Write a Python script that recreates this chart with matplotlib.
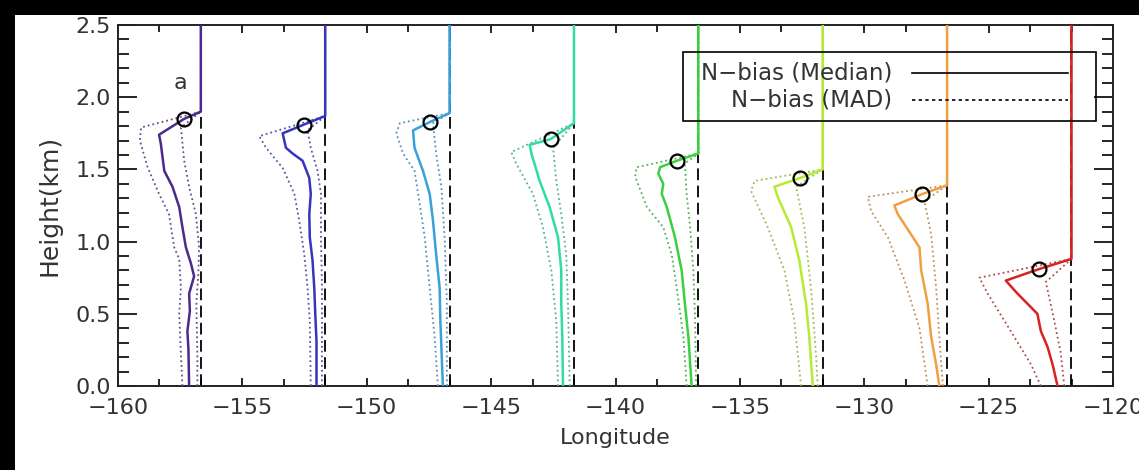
import numpy as np
import matplotlib
matplotlib.use("Agg")
import matplotlib.pyplot as plt
from matplotlib.patches import Rectangle
from matplotlib.lines import Line2D
from matplotlib.ticker import MultipleLocator, FormatStrFormatter
from matplotlib.colors import to_rgb

# Reference longitudes (dashed lines), one profile per longitude
lon0 = [-156.67, -151.67, -146.67, -141.67, -136.67, -131.67, -126.67, -121.67]
colors = ['#4b2a8c', '#3535c0', '#3aa0dc', '#30dca0', '#3ad040', '#b4ec34', '#f0a040', '#d82222']

# height (km) where the profile jumps back to zero, and the circled point
step_h = [1.90, 1.87, 1.89, 1.82, 1.61, 1.50, 1.39, 0.88]
circ_h = [1.85, 1.81, 1.83, 1.71, 1.56, 1.44, 1.33, 0.81]
circ_off = [-0.67, -0.86, -0.77, -0.93, -0.86, -0.92, -0.99, -1.30]

# Median N-bias profiles (offset in deg. from the reference longitude)
med_h = [
    [0.0, 0.26, 0.38, 0.52, 0.64, 0.76, 0.85, 0.96, 1.10, 1.24, 1.38, 1.49, 1.68, 1.74],
    [0.0, 0.31, 0.50, 0.68, 0.87, 1.03, 1.19, 1.33, 1.44, 1.56, 1.61, 1.65, 1.75],
    [0.0, 0.45, 0.68, 0.91, 1.15, 1.33, 1.49, 1.65, 1.77],
    [0.0, 0.34, 0.57, 0.80, 1.03, 1.24, 1.42, 1.61, 1.67],
    [0.0, 0.34, 0.57, 0.80, 1.03, 1.24, 1.33, 1.40, 1.47, 1.515],
    [0.0, 0.34, 0.57, 0.87, 1.10, 1.31, 1.38],
    [0.0, 0.15, 0.34, 0.57, 0.80, 0.96, 1.05, 1.19, 1.25],
    [0.0, 0.15, 0.27, 0.38, 0.50, 0.57, 0.64, 0.73],
]
med_off = [
    [-0.47, -0.50, -0.54, -0.44, -0.47, -0.27, -0.40, -0.60, -0.74, -0.87, -1.14, -1.47, -1.61, -1.68],
    [-0.35, -0.35, -0.40, -0.44, -0.51, -0.62, -0.64, -0.58, -0.64, -0.91, -1.31, -1.58, -1.71],
    [-0.27, -0.37, -0.40, -0.54, -0.67, -0.80, -1.07, -1.41, -1.47],
    [-0.44, -0.47, -0.51, -0.51, -0.64, -0.98, -1.38, -1.71, -1.78],
    [-0.27, -0.40, -0.54, -0.67, -0.94, -1.27, -1.47, -1.41, -1.61, -1.54],
    [-0.40, -0.54, -0.67, -0.94, -1.27, -1.81, -1.94],
    [-0.31, -0.44, -0.64, -0.78, -1.04, -1.11, -1.45, -1.98, -2.12],
    [-0.56, -0.76, -0.96, -1.23, -1.37, -1.77, -2.17, -2.64],
]

# MAD envelopes (left and right)
lo_h = [
    [0.0, 0.22, 0.50, 0.68, 0.88, 0.96, 1.19, 1.33, 1.52, 1.70, 1.79],
    [0.0, 0.45, 0.68, 0.91, 1.14, 1.33, 1.51, 1.65, 1.73],
    [0.0, 0.34, 0.68, 1.03, 1.26, 1.49, 1.61, 1.75, 1.82],
    [0.0, 0.45, 0.80, 1.10, 1.33, 1.54, 1.62],
    [0.0, 0.34, 0.68, 0.91, 1.10, 1.24, 1.45, 1.515],
    [0.0, 0.45, 0.80, 1.10, 1.35, 1.42],
    [0.0, 0.40, 0.73, 1.03, 1.21, 1.31],
    [0.0, 0.15, 0.38, 0.64, 0.75],
]
lo_off = [
    [-0.74, -0.80, -0.87, -0.80, -0.87, -1.07, -1.28, -1.68, -2.15, -2.45, -2.40],
    [-0.58, -0.62, -0.71, -0.84, -1.04, -1.24, -1.71, -2.38, -2.65],
    [-0.47, -0.60, -0.80, -1.00, -1.20, -1.41, -1.87, -2.14, -2.00],
    [-0.64, -0.71, -0.91, -1.25, -1.65, -2.32, -2.52],
    [-0.47, -0.60, -0.87, -1.07, -1.41, -2.07, -2.54, -2.48],
    [-0.87, -1.14, -1.54, -2.21, -2.88, -2.74],
    [-0.78, -1.11, -1.71, -2.38, -3.05, -3.19],
    [-1.23, -1.63, -2.44, -3.37, -3.70],
]
hi_h = [
    [0.0, 0.22, 0.57, 0.78, 0.96, 1.19, 1.38, 1.56, 1.79],
    [0.0, 0.68, 1.03, 1.33, 1.49, 1.65, 1.77],
    [0.0, 0.57, 1.03, 1.38, 1.61, 1.82],
    [0.0, 0.57, 0.91, 1.19, 1.42, 1.65],
    [0.0, 0.45, 0.80, 1.10, 1.33, 1.54],
    [0.0, 0.22, 0.68, 1.10, 1.38],
    [0.0, 0.34, 0.68, 1.05, 1.28],
    [0.0, 0.23, 0.46, 0.72],
]
hi_off = [
    [-0.14, -0.14, -0.18, -0.10, -0.07, -0.20, -0.47, -0.67, -0.80],
    [-0.13, -0.13, -0.17, -0.17, -0.31, -0.58, -0.71],
    [-0.11, -0.11, -0.20, -0.33, -0.54, -0.67],
    [-0.17, -0.24, -0.31, -0.51, -0.71, -0.84],
    [-0.09, -0.13, -0.20, -0.33, -0.47, -0.54],
    [-0.20, -0.27, -0.47, -0.74, -1.07],
    [-0.17, -0.31, -0.44, -0.64, -0.91],
    [-0.29, -0.43, -0.70, -1.03],
]

txt = '#333333'
fig = plt.figure(figsize=(11.39, 4.70), dpi=100)
fig.patch.set_facecolor('black')
# white page, black strip on top and left
fig.patches.append(Rectangle((15/1139, 0), 1, 1 - 15/470, transform=fig.transFigure,
                             facecolor='white', edgecolor='none', zorder=-10))
ax = fig.add_axes([118/1139, 1 - 386/470, 995/1139, 361/470])
ax.set_facecolor('white')

for i in range(len(lon0)):
    x0 = lon0[i]
    c = colors[i]
    dc = tuple(0.55*np.array(to_rgb(c)) + 0.45*np.array([0.5, 0.5, 0.5]))
    ax.plot([x0, x0], [0, 2.5], color='black', ls=(0, (6.5, 3)), lw=1.3, zorder=2)
    for hh, oo in [(lo_h, lo_off), (hi_h, hi_off)]:
        ax.plot(x0 + np.array(oo[i] + [0.0, 0.0]), hh[i] + [step_h[i], 2.5],
                color=dc, ls=':', lw=1.3, zorder=3)
    mh = med_h[i] + [circ_h[i], step_h[i], 2.5]
    mo = med_off[i] + [circ_off[i], 0.0, 0.0]
    ax.plot(x0 + np.array(mo), mh, color=c, lw=1.8, zorder=4)
    ax.plot(x0 + circ_off[i], circ_h[i], 'o', mfc='none', mec='black', ms=10, mew=1.6, zorder=5)

ax.text(-157.5, 2.1, 'a', fontsize=16, color=txt, ha='center', va='center')

# legend box drawn by hand (labels right-aligned as in the original)
ax.add_patch(Rectangle((0.568, 0.734), 0.415, 0.191, transform=ax.transAxes,
                       facecolor='none', edgecolor='black', lw=1.2, zorder=6))
ax.text(0.778, 0.867, 'N−bias (Median)', transform=ax.transAxes, ha='right', va='center',
        fontsize=16.5, color=txt, zorder=6)
ax.text(0.778, 0.792, 'N−bias (MAD)', transform=ax.transAxes, ha='right', va='center',
        fontsize=16.5, color=txt, zorder=6)
ax.add_line(Line2D([0.798, 0.955], [0.867, 0.867], transform=ax.transAxes, color='black', lw=1.2, zorder=6))
ax.add_line(Line2D([0.798, 0.955], [0.792, 0.792], transform=ax.transAxes, color='black', lw=1.2,
                   ls=(0, (2, 2)), zorder=6))

ax.set_xlim(-160, -120)
ax.set_ylim(0, 2.5)
ax.xaxis.set_major_locator(MultipleLocator(5))
ax.xaxis.set_minor_locator(MultipleLocator(5/3))
ax.yaxis.set_major_locator(MultipleLocator(0.5))
ax.yaxis.set_minor_locator(MultipleLocator(0.1))
ax.yaxis.set_major_formatter(FormatStrFormatter('%.1f'))
ax.tick_params(axis='x', which='major', direction='in', length=6, width=1.2, top=True, pad=9,
               labelsize=16, labelcolor=txt)
ax.tick_params(axis='x', which='minor', direction='in', length=5, width=1.2, top=True)
ax.tick_params(axis='y', which='major', direction='in', length=14, width=1.2, right=True, pad=5,
               labelsize=16, labelcolor=txt)
ax.tick_params(axis='y', which='minor', direction='in', length=8, width=1.2, right=True)
for s in ax.spines.values():
    s.set_linewidth(1.4)
    s.set_color('#222222')
ax.set_xlabel('Longitude', fontsize=16, color=txt, labelpad=7)
ax.set_ylabel('Height(km)', fontsize=18, color=txt, labelpad=10)

fig.savefig('out.png', dpi=100, facecolor=fig.get_facecolor())
